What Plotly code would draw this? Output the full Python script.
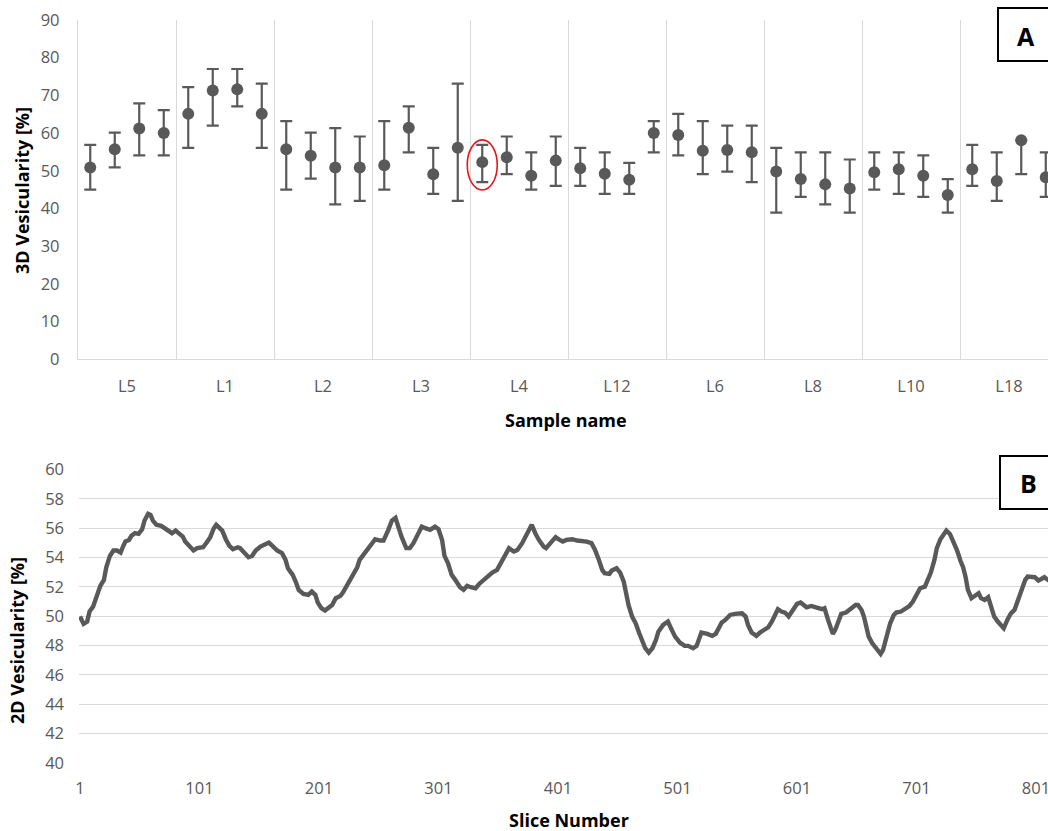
import plotly.graph_objects as go

# ---- Panel A: 3D vesicularity per sample (4 sub-samples per sample) ----
sample_names = ["L5", "L1", "L2", "L3", "L4", "L12", "L6", "L8", "L10", "L18"]
vesic_3d = [50.9, 55.7, 61.2, 60.0, 65.1, 71.3, 71.6, 65.1, 55.7, 54.0,
            50.9, 50.9, 51.5, 61.4, 49.1, 56.1, 52.3, 53.6, 48.7, 52.7,
            50.7, 49.2, 47.6, 60.0, 59.5, 55.3, 55.5, 54.9, 49.8, 47.8,
            46.4, 45.3, 49.6, 50.4, 48.7, 43.6, 50.4, 47.3, 58.1, 48.3]
vesic_3d_high = [56.9, 60.1, 67.9, 66.1, 72.2, 77.0, 77.0, 73.1, 63.2, 60.1,
                 61.3, 59.1, 63.2, 67.1, 56.1, 73.1, 56.9, 59.1, 54.9, 59.1,
                 56.1, 54.9, 52.1, 63.2, 65.1, 63.2, 62.0, 62.0, 56.1, 54.9,
                 54.9, 53.0, 54.9, 54.9, 54.1, 47.8, 56.9, 54.9, 58.1, 54.9]
vesic_3d_low = [45.0, 50.9, 54.1, 54.1, 56.1, 62.0, 67.1, 56.1, 45.0, 47.9,
                41.1, 42.0, 45.0, 54.9, 43.9, 42.0, 47.0, 49.1, 45.0, 46.0,
                46.0, 43.9, 43.9, 54.9, 54.1, 49.1, 49.8, 47.0, 38.9, 43.1,
                41.1, 38.9, 45.0, 43.9, 43.1, 38.9, 46.0, 42.0, 49.1, 43.1]
highlighted_index = 16  # first L4 sub-sample

# ---- Panel B: 2D vesicularity along the slice stack ----
slice_no = [1, 4, 7, 9, 12, 15, 18, 21, 23, 26, 29, 32, 35, 37, 39, 42, 44, 47, 50, 53,
            55, 58, 60, 62, 65, 69, 72, 75, 78, 81, 84, 87, 89, 93, 96, 99, 101, 104, 107, 110,
            113, 115, 117, 120, 123, 126, 129, 133, 135, 139, 142, 145, 148, 152, 155, 159, 162, 166, 170, 173,
            175, 179, 182, 184, 188, 192, 195, 198, 200, 203, 206, 209, 212, 215, 219, 221, 225, 229, 233, 235,
            240, 242, 245, 248, 252, 255, 259, 262, 265, 267, 270, 274, 277, 280, 284, 287, 290, 294, 298, 301,
            304, 306, 309, 312, 315, 319, 322, 325, 328, 332, 335, 339, 343, 346, 350, 353, 357, 360, 364, 367,
            371, 374, 377, 379, 382, 385, 389, 391, 395, 399, 402, 405, 408, 413, 417, 421, 425, 429, 432, 435,
            438, 440, 444, 446, 450, 453, 456, 458, 460, 463, 466, 469, 472, 474, 477, 480, 483, 485, 489, 493,
            496, 499, 503, 507, 510, 514, 517, 519, 521, 526, 530, 533, 535, 538, 541, 545, 549, 552, 555, 558,
            560, 563, 567, 570, 574, 577, 580, 583, 585, 588, 591, 594, 597, 601, 604, 606, 609, 613, 616, 619,
            622, 624, 627, 630, 631, 633, 636, 638, 642, 645, 647, 650, 652, 655, 657, 659, 661, 664, 666, 668,
            671, 673, 676, 679, 682, 684, 688, 691, 695, 698, 701, 704, 708, 710, 713, 716, 718, 721, 723, 726,
            729, 732, 735, 738, 740, 742, 744, 747, 750, 753, 755, 758, 761, 763, 766, 769, 772, 774, 777, 780,
            783, 786, 789, 792, 794, 797, 800, 803, 806, 808, 811, 814]
vesic_2d = [49.98, 49.48, 49.64, 50.32, 50.66, 51.34, 52.07, 52.48, 53.34, 54.11, 54.48, 54.48, 54.34, 54.75, 55.09, 55.20, 55.48, 55.66, 55.61, 55.93,
            56.52, 56.98, 56.90, 56.52, 56.23, 56.16, 56.00, 55.77, 55.66, 55.84, 55.66, 55.43, 55.09, 54.70, 54.48, 54.64, 54.68, 54.70, 55.02, 55.39,
            56.00, 56.23, 56.07, 55.84, 55.25, 54.80, 54.57, 54.70, 54.64, 54.25, 54.02, 54.11, 54.48, 54.75, 54.86, 55.02, 54.80, 54.48, 54.30, 53.84,
            53.27, 52.82, 52.25, 51.80, 51.52, 51.45, 51.68, 51.45, 50.93, 50.55, 50.39, 50.55, 50.77, 51.23, 51.39, 51.61, 52.20, 52.70, 53.34, 53.84,
            54.41, 54.64, 54.98, 55.25, 55.16, 55.16, 55.89, 56.52, 56.70, 56.18, 55.43, 54.64, 54.64, 54.98, 55.70, 56.11, 56.00, 55.89, 56.11, 55.93,
            55.20, 54.11, 53.61, 52.82, 52.48, 51.98, 51.80, 52.07, 51.98, 51.91, 52.20, 52.48, 52.70, 52.98, 53.16, 53.61, 54.25, 54.64, 54.41, 54.52,
            54.98, 55.43, 55.89, 56.23, 55.66, 55.20, 54.75, 54.64, 55.02, 55.39, 55.22, 55.09, 55.20, 55.25, 55.16, 55.14, 55.09, 54.98, 54.52, 53.89,
            53.16, 52.93, 52.89, 53.11, 53.27, 52.98, 52.36, 51.57, 50.77, 49.98, 49.52, 48.84, 48.27, 47.82, 47.52, 47.82, 48.39, 48.95, 49.41, 49.64,
            49.11, 48.61, 48.20, 47.98, 47.98, 47.82, 47.98, 48.50, 48.89, 48.80, 48.66, 48.80, 49.18, 49.57, 49.75, 50.09, 50.16, 50.16, 50.20, 49.98,
            49.41, 48.89, 48.66, 48.89, 49.07, 49.25, 49.64, 50.16, 50.48, 50.32, 50.25, 49.98, 50.32, 50.84, 50.93, 50.77, 50.61, 50.70, 50.66, 50.55,
            50.48, 50.55, 49.75, 48.95, 48.80, 49.07, 49.86, 50.16, 50.25, 50.43, 50.55, 50.77, 50.77, 50.43, 49.98, 49.30, 48.61, 48.16, 47.93, 47.70,
            47.43, 47.70, 48.61, 49.52, 50.09, 50.25, 50.32, 50.48, 50.70, 51.00, 51.45, 51.91, 52.02, 52.36, 52.98, 53.84, 54.64, 55.25, 55.48, 55.84,
            55.61, 55.09, 54.48, 53.73, 53.34, 52.70, 51.80, 51.23, 51.39, 51.57, 51.23, 51.11, 51.30, 50.77, 49.98, 49.64, 49.41, 49.18, 49.75, 50.20,
            50.43, 51.11, 51.68, 52.48, 52.70, 52.70, 52.66, 52.43, 52.59, 52.66, 52.48, 52.55]
slice_ticks = [1, 101, 201, 301, 401, 501, 601, 701, 801]

W, H = 1048, 831
FONT = "Open Sans"
DARK = "#595959"
GRID = "#d9d9d9"

per_sample = 4
n_pts = len(vesic_3d)
x_pos = [i + 0.5 for i in range(n_pts)]
err_plus = [h - m for h, m in zip(vesic_3d_high, vesic_3d)]
err_minus = [m - l for m, l in zip(vesic_3d, vesic_3d_low)]
cat_centres = [per_sample * k + per_sample / 2 for k in range(len(sample_names))]

pt_px = 24.5  # horizontal pixel pitch of one sub-sample slot
px_per_slice = 1.195


def py(y_px):
    return 1 - y_px / H


fig = go.Figure()

fig.add_trace(go.Scatter(
    x=x_pos, y=vesic_3d, mode="markers",
    marker=dict(size=12, color=DARK),
    error_y=dict(type="data", symmetric=False, array=err_plus, arrayminus=err_minus,
                 color=DARK, thickness=2.2, width=6),
    xaxis="x", yaxis="y", showlegend=False, hoverinfo="skip",
))

fig.add_trace(go.Scatter(
    x=slice_no, y=vesic_2d, mode="lines",
    line=dict(color=DARK, width=4.4),
    xaxis="x2", yaxis="y2", showlegend=False, hoverinfo="skip",
))

tick_font = dict(family=FONT, size=16.5, color=DARK)
title_font = dict(family=FONT, size=18, color="black")

fig.update_layout(
    template="none",
    width=W, height=H,
    margin=dict(l=0, r=0, t=0, b=0, pad=0, autoexpand=False),
    paper_bgcolor="white", plot_bgcolor="white",
    xaxis=dict(
        domain=[78 / W, 1], range=[0, (W - 78) / pt_px], anchor="y", automargin=False,
        tickmode="array", tickvals=cat_centres, ticktext=sample_names,
        showgrid=False, zeroline=False, ticks="",
        showline=True, linecolor=GRID, linewidth=1.3,
        tickfont=tick_font, ticklabelstandoff=12, ticklabeloverflow="allow",
        minor=dict(tickmode="linear", tick0=0, dtick=per_sample,
                   showgrid=True, gridcolor=GRID, gridwidth=1.3, ticks=""),
    ),
    yaxis=dict(
        domain=[py(359.3), py(20)], range=[0, 90], dtick=10, anchor="x", automargin=False,
        showgrid=False, zeroline=False, ticks="",
        showline=True, linecolor=GRID, linewidth=1.3,
        tickfont=tick_font, ticklabelstandoff=14,
    ),
    xaxis2=dict(
        domain=[79 / W, 1], range=[1 - 1 / px_per_slice, 1 + (W - 80) / px_per_slice],
        anchor="y2", automargin=False, tickmode="array", tickvals=slice_ticks,
        showgrid=False, zeroline=False, ticks="", showline=False,
        tickfont=tick_font, ticklabelstandoff=13, ticklabeloverflow="allow",
    ),
    yaxis2=dict(
        domain=[py(763), py(469.5)], range=[40, 60], dtick=2, anchor="x2", automargin=False,
        showgrid=True, gridcolor=GRID, gridwidth=1.3, zeroline=False, ticks="",
        showline=False, tickfont=tick_font, ticklabelstandoff=14,
    ),
)

annotations = [
    dict(text="<b>3D Vesicularity [%]</b>", x=22 / W, y=py(191), textangle=-90),
    dict(text="<b>Sample name</b>", x=566 / W, y=py(420)),
    dict(text="<b>2D Vesicularity [%]</b>", x=17 / W, y=py(641), textangle=-90),
    dict(text="<b>Slice Number</b>", x=569 / W, y=py(820)),
]
for a in annotations:
    fig.add_annotation(xref="paper", yref="paper", showarrow=False,
                       xanchor="center", yanchor="middle", font=title_font, **a)

# Panel letters in framed boxes
for letter, x0, y0, y1, xc, yc in [("A", 998, 8, 61, 1026, 36),
                                    ("B", 1000, 456, 509, 1028, 483)]:
    fig.add_shape(type="rect", xref="paper", yref="paper",
                  x0=x0 / W, x1=1.02, y0=py(y1), y1=py(y0),
                  line=dict(color="black", width=2), fillcolor="white", layer="above")
    fig.add_annotation(xref="paper", yref="paper", x=xc / W, y=py(yc), showarrow=False,
                       text=f"<b>{letter}</b>", font=dict(family=FONT, size=25, color="black"),
                       xanchor="center", yanchor="middle")

# Red ellipse around the highlighted sub-sample
hx = x_pos[highlighted_index]
hy = vesic_3d[highlighted_index]
fig.add_shape(type="circle", xref="x", yref="y",
              x0=hx - 15 / pt_px, x1=hx + 15 / pt_px, y0=hy - 7.4, y1=hy + 5.9,
              line=dict(color="#e8141b", width=1.6), layer="above")

fig.write_html("out.html")
